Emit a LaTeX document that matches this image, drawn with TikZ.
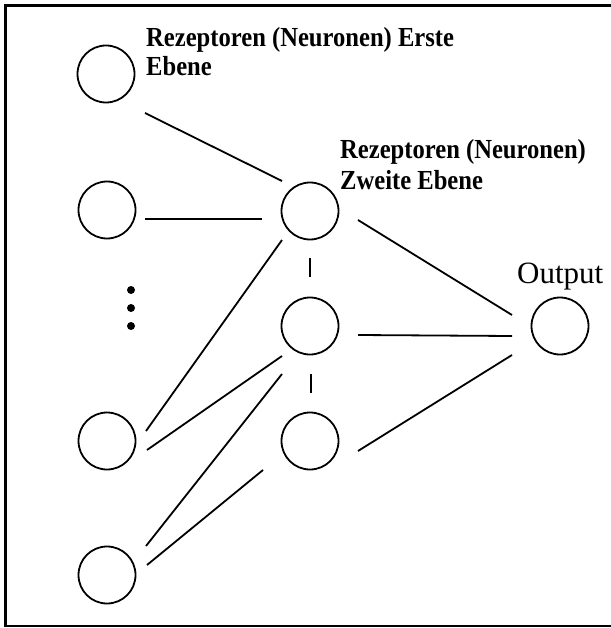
\documentclass[tikz,border=0pt]{standalone}
\usepackage{fontspec}
\setmainfont{Liberation Serif}
\usetikzlibrary{calc}
\newcommand{\tallline}[1]{\scalebox{1}[1.12]{#1}}
\tikzset{
  neuron/.style={draw, circle, line width=1.8pt, minimum size=57pt, inner sep=0pt},
  link/.style={line width=1.8pt},
  layerlabel/.style={anchor=base west, inner sep=0pt, font=\bfseries\fontsize{24.6}{28}\selectfont},
  outlabel/.style={anchor=base west, inner sep=0pt, font=\fontsize{31}{34}\selectfont},
  dotmark/.style={fill, circle, minimum size=8pt, inner sep=0pt}
}
\begin{document}
\begin{tikzpicture}[x=1pt, y=-1pt]
\useasboundingbox (0,0) rectangle (610,628);
% frame, open on the right
\draw[line width=2.6pt] (613,5.5) -- (5.5,5.5) -- (5.5,626) -- (613,626);

% first layer
\node[neuron] (L1) at (106,74) {};
\node[neuron] (L2) at (107,210) {};
\node[neuron] (L4) at (107,441) {};
\node[neuron] (L5) at (107,575) {};
\node[dotmark] (d1) at (131,290) {};
\node[dotmark] (d2) at (131,308) {};
\node[dotmark] (d3) at (131,326) {};

% second layer
\node[neuron] (M1) at (310,211) {};
\node[neuron] (M2) at (310,326) {};
\node[neuron] (M3) at (310,441) {};

% output
\node[neuron] (O) at (560,326) {};

% labels
\node[layerlabel] (t1a) at (146,47) {\tallline{Rezeptoren (Neuronen) Erste}};
\node[layerlabel] (t1b) at (146,76) {\tallline{Ebene}};
\node[layerlabel] (t2a) at (340,159) {\tallline{Rezeptoren (Neuronen)}};
\node[layerlabel] (t2b) at (340,190) {\tallline{Zweite Ebene}};
\node[outlabel] (t3) at (517,283) {Output};

% connections first -> second layer
\draw[link] ($(L1)+(39,39)$) -- ($(M1)+(-28,-30)$);
\draw[link] ($(L2)+(38,9)$) -- ($(M1)+(-48,8)$);
\draw[link] ($(L4)+(39,-10)$) -- ($(M1)+(-28,29)$);
\draw[link] ($(L4)+(40,9)$) -- ($(M2)+(-28,30)$);
\draw[link] ($(L5)+(39,-29)$) -- ($(M2)+(-28,48)$);
\draw[link] ($(L5)+(40,-10)$) -- ($(M3)+(-47,29)$);

% second layer -> output
\draw[link] ($(M1)+(48,9)$) -- ($(O)+(-48,-11)$);
\draw[link] ($(M2)+(48,9)$) -- ($(O)+(-48,10)$);
\draw[link] ($(M3)+(48,10)$) -- ($(O)+(-48,29)$);

% short ticks between second-layer units
\draw[link] ($(M1)+(0,47)$) -- ($(M2)+(0,-49)$);
\draw[link] ($(M2)+(1,48)$) -- ($(M3)+(1,-48)$);
\end{tikzpicture}
\end{document}
